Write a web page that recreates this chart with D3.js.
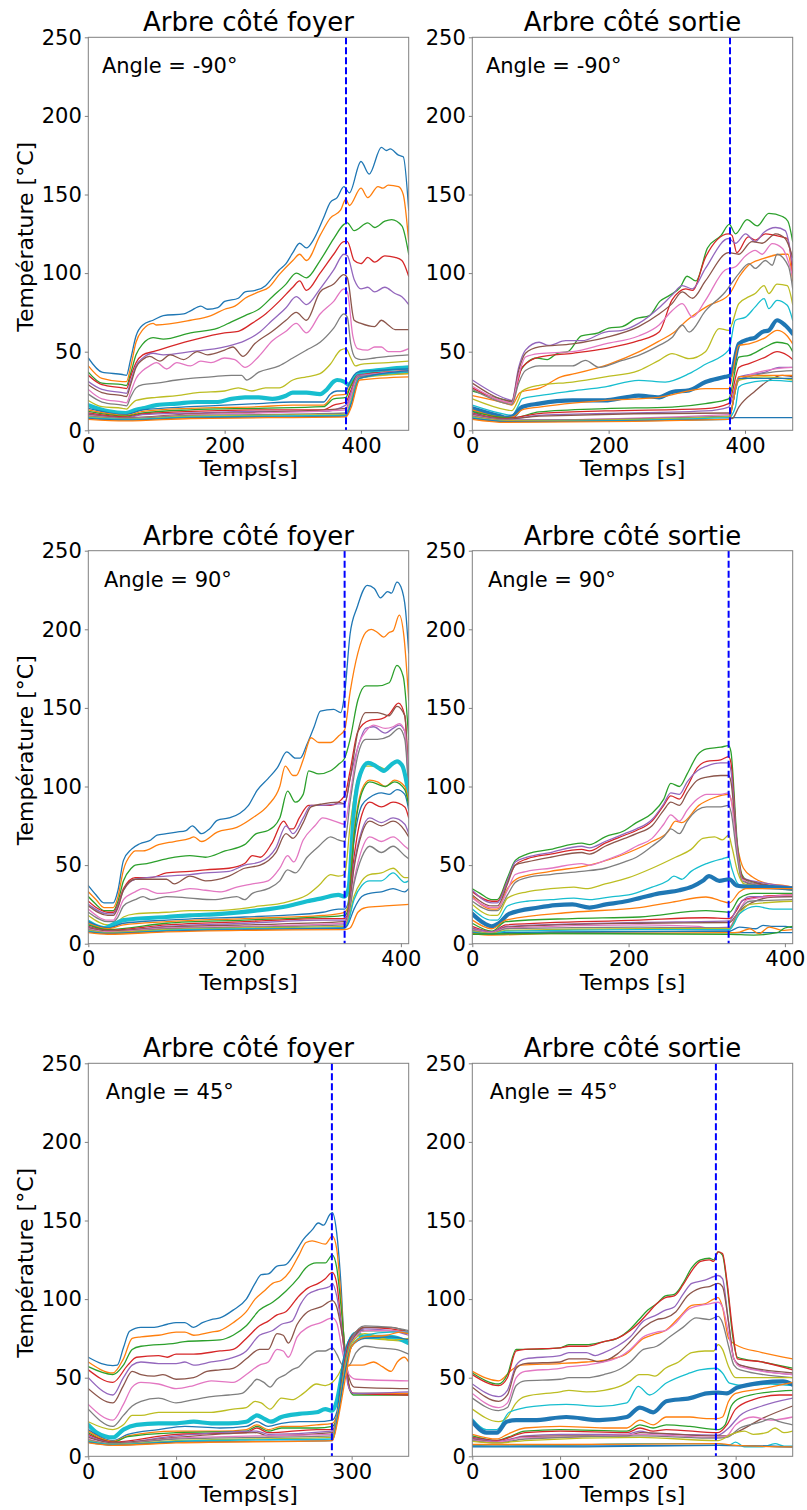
<!DOCTYPE html>
<html><head><meta charset="utf-8">
<script src="https://cdn.jsdelivr.net/npm/d3@7"></script>
<style>body{margin:0;background:#fff;} svg text{font-family:"DejaVu Sans",sans-serif;fill:#000;}</style>
</head><body>
<svg id="chart" width="807" height="1510"></svg>
<script>
// ---------- DATA ----------
const panelTitles = ["Arbre côté foyer","Arbre côté sortie","Arbre côté foyer","Arbre côté sortie","Arbre côté foyer","Arbre côté sortie"];
const angleLabels = ["Angle = -90°","Angle = -90°","Angle = 90°","Angle = 90°","Angle = 45°","Angle = 45°"];
const xLabels = ["Temps[s]","Temps [s]","Temps[s]","Temps [s]","Temps[s]","Temps [s]"];
const yLabel = "Température [°C]";
const xDomainMax = [470,470,410,410,365,365];
const markerTime = [378,378,328,328,277.5,277.5];
const xTickValues = [[0,200,400],[0,200,400],[0,200,400],[0,200,400],[0,100,200,300],[0,100,200,300]];
const yTickValues = [0,50,100,150,200,250];
const highlightIndex = [9,10,9,10,9,10];

const foyerM90 = [
[[0,46],[20,37],[50,35.5],[56,35],[62,45],[70,60],[80,67],[95,70],[110,73],[140,74],[150,76],[165,79],[175,77],[190,78],[200,82],[220,84],[230,88],[245,89],[260,92],[270,97],[280,102],[290,106],[300,113],[310,119],[320,116],[330,121],[345,135],[355,145],[365,148],[375,155],[383,151],[400,171],[412,163],[430,180],[437,178],[443,179],[455,175],[462,174],[470,140]],
[[0,41],[20,33],[50,31],[56,31],[62,40],[70,56],[80,64],[95,68],[100,67],[150,70],[180,73],[200,77],[215,79],[230,84],[250,88],[265,91],[280,99],[300,108],[310,112],[320,108],[340,124],[355,135],[370,140],[378,147],[383,143],[400,154],[410,148],[425,155],[432,154],[440,156],[455,155],[462,150],[470,120]],
[[0,37],[20,30],[50,29],[56,28.5],[62,36],[70,48],[80,55],[95,59],[110,58],[150,62],[190,65],[210,69],[230,73],[250,77],[270,85],[290,93],[305,100],[320,97],[340,108],[360,122],[375,131],[380,132],[390,127],[410,132],[420,129],[435,133],[445,134],[460,130],[470,112]],
[[0,35],[20,29],[50,27],[56,26.5],[62,34],[70,43],[80,48],[95,50],[150,57],[200,62],[220,63],[240,68],[260,74],[280,82],[300,91],[310,95],[320,89],[340,100],[360,112],[375,120],[380,120],[390,108],[400,106],[410,110],[420,107],[435,111],[450,110],[460,108],[470,98]],
[[0,31],[20,26],[50,24],[56,23.5],[62,31],[70,41],[80,46],[95,49],[110,48],[150,50],[200,53],[230,57],[250,62],[270,70],[290,78],[305,85],[320,80],[340,90],[360,102],[375,112],[380,111],[390,96],[400,90],[410,91],[420,88],[435,91],[450,87],[460,85],[470,80]],
[[0,29],[20,24],[50,22],[56,21.5],[62,29],[70,40],[80,45],[90,47],[105,44],[120,48],[140,45],[160,50],[175,48],[200,51],[212,53],[227,47],[244,55],[270,63],[290,70],[305,75],[320,70],[340,88],[360,93],[375,99],[380,97],[390,70],[400,68],[420,66],[430,70],[440,67],[450,64],[470,64]],
[[0,26],[20,20],[50,18],[56,17.5],[62,24],[70,33],[80,38],[90,41],[100,43],[115,39],[130,43],[150,41],[165,44],[180,43],[200,46],[215,45],[230,40],[250,47],[270,57],[290,63],[305,68],[320,62],[340,74],[360,82],[375,90],[380,88],[388,60],[395,52],[410,51],[420,53],[430,53],[440,50],[455,50],[470,52]],
[[0,23],[20,18],[50,16],[56,15.5],[62,21],[70,27],[80,29],[100,30],[130,32],[150,33],[180,34],[210,35],[225,35],[232,32],[250,37],[280,41],[300,46],[320,51],[340,56],[360,65],[375,74],[380,72],[385,55],[392,46],[400,45],[420,46],[440,47],[470,48]],
[[0,19],[20,15],[50,14],[56,13.5],[62,16],[70,19],[100,21],[130,22],[160,24],[200,25],[220,27],[240,25],[260,27],[280,27],[300,32],[320,34],[340,36],[355,42],[370,51],[378,52],[385,46],[392,41],[400,42],[440,43],[470,44]],
[[0,16],[30,12],[55,11],[70,13],[80,14],[100,16],[130,17],[160,18],[190,18],[210,20],[230,21],[250,21],[270,20],[290,22],[300,24],[320,24],[340,23],[350,26],[360,31],[365,32],[375,31],[382,29],[390,33],[400,37],[420,38],[440,39],[470,40]],
[[0,14],[55,10],[80,13],[150,15],[200,16],[250,17],[300,18],[345,18],[355,23],[365,25],[378,25],[383,30],[395,37],[420,38],[470,39]],
[[0,13],[55,9.5],[80,12],[150,14],[250,15],[300,16],[345,16],[360,22],[378,23],[383,27],[395,34],[420,35],[470,36]],
[[0,12],[55,9],[80,11],[150,13],[250,14],[345,15],[360,20],[378,21],[383,26],[395,35],[470,38]],
[[0,11],[55,8.5],[80,10.5],[150,12],[250,13],[345,13],[360,16],[378,18],[384,24],[395,35],[470,38]],
[[0,10.5],[55,8],[80,10],[150,11],[250,12],[345,12],[378,16],[384,22],[395,35],[470,37]],
[[0,10],[55,8],[150,10.5],[250,11.5],[378,14],[384,20],[396,34],[470,37]],
[[0,9.5],[55,7.5],[150,10],[250,11],[378,13],[384,20],[396,34],[470,38]],
[[0,9],[55,7.5],[150,9.5],[250,10],[378,11],[385,18],[397,34],[470,37]],
[[0,8.5],[55,7],[150,9],[250,9.5],[378,10],[385,18],[397,33],[470,36]],
[[0,8],[55,7],[150,8.5],[250,9],[378,9.5],[385,17],[397,33],[470,37]],
[[0,7.5],[55,6.5],[150,8],[378,9],[386,17],[398,33],[470,38]],
[[0,7],[55,6],[150,7.5],[378,8.5],[386,15],[398,32],[470,34]]
];

const sortieM90 = [
[[0,12],[50,6],[80,6.5],[200,6.5],[378,7],[382,8],[470,8]],
[[0,22],[50,17],[58,16],[70,24],[100,27],[130,34],[150,36],[200,42],[245,50],[275,57],[295,62],[315,70],[345,79],[376,86],[392,98],[405,105],[425,109],[455,112],[463,112],[470,95]],
[[0,25],[50,19],[58,18],[68,35],[80,43],[95,46],[110,45],[125,49],[140,50],[160,60],[185,62],[200,65],[220,66],[240,71],[260,73],[275,82],[290,86],[305,91],[315,98],[328,95],[345,116],[365,124],[377,131],[386,125],[403,134],[418,130],[435,138],[455,136],[463,133],[470,120]],
[[0,27],[50,18],[58,17.5],[68,33],[73,40],[98,46.5],[147,49],[195,52],[244,57],[274,62.5],[293,83],[303,88],[313,90],[323,89],[342,110],[376,125],[381,124],[388,113],[405,123],[415,121],[430,125],[454,123],[462,122],[470,100]],
[[0,32],[50,20],[58,19],[68,40],[78,51],[98,56],[112,54],[137,57],[161,57],[195,62.5],[220,63.6],[244,68],[274,78],[293,86],[308,92],[323,90],[342,103],[376,122],[386,119],[401,125],[415,120],[428,126],[445,129],[459,127],[470,105]],
[[0,30],[50,19],[58,18.5],[68,38],[78,49],[98,53],[147,55],[195,59],[244,66],[274,74],[293,80.6],[308,88],[323,84],[342,95],[376,113],[391,112],[410,120],[425,119],[445,125],[459,122],[470,110]],
[[0,28],[50,18],[58,17.5],[68,35],[78,46.6],[98,48.8],[147,50],[195,55],[244,60],[274,67],[293,76],[308,80.6],[323,72],[342,82.7],[371,102],[386,104],[401,111],[415,114.5],[425,112],[440,118.7],[455,115.6],[470,98]],
[[0,26],[50,17],[58,16.5],[68,30],[78,38],[98,41],[147,41],[166,44.5],[186,40],[220,44.5],[244,47.7],[274,54],[293,59],[308,67],[318,62.5],[342,76],[371,88],[391,99.7],[406,106],[415,103],[430,108],[440,105],[447,112],[464,104],[470,90]],
[[0,20],[50,13],[58,12.5],[68,20],[73,25],[98,28.6],[147,30.7],[195,34],[244,38],[274,44.5],[293,48.8],[318,45.6],[342,50],[362,64.7],[376,63.6],[391,80.6],[406,85],[415,87],[428,92],[435,87],[447,93],[462,92],[470,80]],
[[0,16],[50,10],[58,9.5],[68,16],[73,20],[98,22],[147,25],[195,27.6],[244,31.8],[283,30.7],[318,36],[342,42],[376,51],[386,70],[401,72],[415,78.5],[428,83.8],[435,77.4],[447,82.7],[462,79.5],[470,70]],
[[0,14],[40,9],[50,8],[60,9],[73,14.8],[98,17],[147,19],[195,19],[225,21],[244,22],[274,21],[293,24.4],[318,25.4],[342,30.7],[371,34],[379,35],[391,55],[406,58],[415,59],[425,62.5],[435,63.6],[447,70],[459,66.8],[470,61.5]],
[[0,13],[50,8],[60,8.5],[73,13],[98,14.8],[195,19],[274,21],[342,26.5],[376,26.5],[391,54],[406,55],[430,59],[447,63.6],[462,60],[470,55]],
[[0,12],[50,8],[60,8],[98,11.7],[195,13.8],[293,14.8],[342,17],[376,20],[391,46.6],[406,47.7],[430,53],[447,56],[462,55],[470,50]],
[[0,11],[50,7.5],[98,10.6],[195,12.3],[342,13.8],[376,17],[391,40],[406,42.4],[430,46.6],[447,50],[462,47.7],[470,45]],
[[0,10.5],[50,7],[98,9.5],[342,12.3],[376,14.8],[391,34],[430,37],[450,40],[470,40]],
[[0,10],[50,7],[98,9],[376,11],[381,7.4],[391,14.8],[415,25],[435,31.8],[455,35],[470,34]],
[[0,9.5],[50,6.5],[376,10],[391,31.8],[430,38],[470,40]],
[[0,9],[50,6.5],[376,9],[391,32],[440,37],[470,38]],
[[0,8.5],[50,6],[376,8.5],[391,32],[430,34],[470,32]],
[[0,8],[50,5.5],[376,8],[386,14.8],[391,27.6],[401,29.7],[440,31.8],[470,31]],
[[0,7.5],[50,5.5],[376,7],[391,33],[470,33]],
[[0,7],[50,5],[376,7],[391,34],[440,35],[470,35]]
];

const foyer90 = [
[[0,37],[10,31],[20,26],[32,26],[38,34],[45,53],[55,60],[66,63.6],[80,66],[88,69],[100,70],[113,71],[125,72],[133,75],[145,70],[155,73],[165,78.5],[180,80],[194,83],[205,88],[216,97.5],[230,105],[242,112],[254,122],[265,118],[271,118],[280,127],[289,138],[297,148],[314,149],[323,147],[328,159],[335,197],[344,214],[357,228],[366,226],[374,220],[383,224],[388,223],[395,230],[400,227],[406,212],[410,185]],
[[0,33],[10,28],[20,23],[32,23],[38,30],[45,47],[55,57],[60,59],[70,59],[90,63],[110,65],[130,67],[135,68],[145,65],[165,71],[190,74],[210,80],[230,88],[245,100],[252,113],[262,107],[266,107],[275,117],[285,131],[295,128],[310,128],[320,132],[328,136],[335,160],[345,185],[355,198],[362,200],[370,198],[378,195],[385,198],[390,199],[398,209],[404,195],[410,155]],
[[0,30],[10,25],[20,21],[32,21],[38,27],[45,40],[55,48],[60,50],[75,51],[100,54],[130,56],[150,55],[175,59],[200,63],[215,70],[230,72],[245,80],[255,97],[265,90],[275,95],[282,110],[295,108],[310,110],[320,114],[328,118],[335,130],[345,155],[355,164],[370,164],[385,166],[395,177],[403,170],[410,130]],
[[0,27],[10,23],[25,20],[32,20],[38,25],[45,35],[60,42],[80,42],[100,45],[130,46],[150,47],[180,48],[200,51],[210,56],[220,55],[235,64],[250,78],[258,73],[262,73],[270,80],[282,88],[295,88],[310,88],[328,94],[335,110],[345,135],[360,142],[375,143],[385,146],[397,153],[405,145],[410,100]],
[[0,25],[25,19],[32,19],[38,24],[45,34],[60,41],[100,43],[130,44],[150,45],[180,46],[200,50],[220,52],[240,61],[253,75],[262,70],[275,80],[285,88],[300,88],[320,89],[328,89],[335,105],[345,125],[355,137],[365,138],[380,134],[390,137],[398,139],[405,135],[410,95]],
[[0,24],[25,18],[32,18],[38,23],[45,34],[60,41],[100,41],[110,38],[130,43],[150,40],[180,43],[200,48],[220,50],[240,58],[253,70],[262,67],[275,77],[285,87],[300,89],[320,90],[328,89],[335,105],[345,135],[355,147],[370,147],[385,145],[395,151],[405,145],[410,100]],
[[0,22],[25,15],[32,15],[38,20],[45,28],[60,33],[70,35],[90,32],[110,33],[130,35],[150,34],[170,33],[190,36],[210,38],[230,40],[245,48],[255,56],[263,52],[275,66],[290,75],[300,80],[315,78],[328,76],[335,95],[345,125],[355,135],[365,139],[380,137],[390,138],[398,140],[405,135],[410,100]],
[[0,20],[25,14],[32,14],[38,17],[45,24],[60,28],[70,30],[80,28],[100,30],[130,29],[160,28],[190,30],[200,28],[210,32],[230,35],[245,40],[255,47],[265,45],[280,55],[295,62],[310,68],[320,66],[328,65],[335,90],[345,120],[355,130],[370,130],[385,132],[398,137],[405,130],[410,95]],
[[0,18],[25,12],[32,12],[40,15],[45,17],[60,19],[100,20],[130,21],[160,21],[190,22],[220,24],[250,26],[265,28],[280,31],[295,37],[310,44],[320,43],[328,44],[335,75],[345,105],[355,113],[370,113],[380,111],[395,116],[405,110],[410,90]],
[[0,14],[20,10],[35,13],[45,15],[100,17],[130,18],[170,19],[214,21],[256,24],[280,27],[300,29],[320,31],[328,30],[333,35],[340,85],[348,108],[358,115],[368,113],[378,110],[388,114],[395,116],[402,113],[410,95]],
[[0,14],[25,10],[45,13],[100,15],[200,17],[250,18],[300,20],[320,22],[328,22],[332,25],[340,65],[350,88],[360,93],[375,96],[385,95],[395,98],[405,95],[410,85]],
[[0,13],[25,9.5],[45,12],[100,14],[200,16],[300,18],[328,20],[332,23],[340,70],[350,98],[360,104],[370,103],[380,100],[392,104],[405,100],[410,90]],
[[0,12],[25,9],[100,13],[200,15],[300,17],[328,18],[332,21],[340,68],[350,96],[360,103],[380,100],[392,103],[405,98],[410,88]],
[[0,11],[25,8.5],[100,12],[200,14],[300,16],[328,16],[332,19],[340,55],[350,82],[360,90],[375,87],[390,90],[405,87],[410,80]],
[[0,10.5],[25,8],[100,11],[200,13],[300,15],[328,15],[332,18],[340,50],[350,72],[360,80],[375,77],[390,80],[405,76],[410,70]],
[[0,10],[25,8],[100,10.5],[200,12],[328,14],[332,17],[340,48],[350,70],[360,78],[375,75],[390,78],[405,72],[410,68]],
[[0,9.5],[25,7.5],[100,10],[200,11],[328,13],[332,16],[340,40],[350,60],[360,68],[375,65],[390,68],[405,62],[410,60]],
[[0,9],[25,7],[100,9.5],[200,10.5],[328,12],[332,15],[340,38],[350,55],[360,62],[375,58],[390,62],[405,56],[410,54]],
[[0,8.5],[25,7],[100,9],[200,10],[328,11],[332,14],[340,30],[350,40],[360,44],[375,45],[390,48],[405,42],[410,42]],
[[0,8],[25,6.5],[100,8.5],[200,9.5],[328,10],[332,13],[340,28],[350,37],[360,40],[375,40],[390,45],[405,39],[410,40]],
[[0,7.5],[25,6.5],[100,8],[200,9],[328,10],[332,12],[340,22],[350,30],[360,32],[375,33],[390,35],[405,33],[410,35]],
[[0,7],[25,6],[100,7.5],[200,8.5],[328,9],[335,10],[345,20],[355,23],[380,24],[410,25]]
];

const sortie90 = [
[[0,9],[30,7],[100,7.5],[328,8],[332,7],[410,7]],
[[0,30],[25,22],[32,22],[45,35],[60,42],[100,46],[150,50],[200,58],[230,65],[250,71],[260,78],[268,77],[290,88],[310,93],[328,95],[332,90],[340,60],[347,48],[360,42],[380,38],[400,37],[410,36]],
[[0,35],[10,32],[25,28],[32,28],[45,42],[55,53],[70,57],[100,60],[140,64],[150,63],[170,68],[195,72],[210,77],[230,83],[245,92],[254,102],[265,100],[275,108],[288,120],[300,124],[318,125],[328,126],[331,122],[339,65],[345,44],[355,39],[380,37],[410,36]],
[[0,33],[25,27],[32,27],[45,40],[55,50],[70,54],[100,57],[140,60],[150,59],[170,64],[195,69],[210,72],[230,78],[245,88],[254,94],[265,92],[275,100],[288,112],[300,116],[318,117],[328,119],[331,115],[339,62],[345,43],[355,38],[380,37],[410,35]],
[[0,34],[25,26],[32,26],[45,40],[55,52],[70,55],[100,58],[140,62],[150,61],[170,65],[195,70],[210,73],[230,79],[245,89],[254,96],[265,95],[275,103],[288,110],[300,113],[318,115],[328,115],[331,110],[339,62],[345,42],[380,38],[410,36]],
[[0,31],[25,24],[32,24],[45,38],[55,50],[70,52],[100,55],[140,58],[150,57],[170,62],[195,67],[210,70],[230,75],[245,85],[254,90],[265,88],[275,96],[288,104],[300,106],[318,107],[328,107],[331,103],[339,60],[345,42],[380,37],[410,35]],
[[0,29],[25,23],[32,23],[45,34],[55,44],[70,46],[100,48],[140,51],[150,50],[170,53],[195,58],[210,62],[230,67],[245,76],[254,82],[265,78],[275,85],[288,92],[300,95],[318,95],[328,96],[331,92],[339,58],[345,41],[380,36],[410,35]],
[[0,27],[25,21],[32,21],[45,31],[55,39],[70,42],[100,44],[140,46],[170,48],[195,52],[210,55],[230,62],[245,68],[254,73],[265,70],[275,78],[288,85],[300,87],[318,87],[328,88],[331,84],[339,55],[345,40],[380,36],[410,35]],
[[0,25],[25,18],[32,18],[45,29],[70,33],[100,35],[130,36],[145,35],[170,38],[200,42],[230,48],[260,55],[280,60],[295,67],[310,68],[320,66],[328,69],[332,62],[340,45],[348,38],[380,36],[410,34]],
[[0,22],[25,15],[32,15],[45,24],[70,27],[100,28],[130,29],[150,28],[180,30],[200,31],[230,36],[250,40],[258,43],[268,41],[280,46],[300,51],[320,54],[328,55],[332,48],[340,38],[350,36],[380,36],[410,35]],
[[0,19],[12,14],[25,11],[34,13],[47,19],[85,23],[107,24.5],[128,25],[150,23],[171,25],[192,26.5],[214,29],[239,32],[265,34],[282,36.5],[295,40],[303,43],[316,40],[329,41],[338,37],[346,36.5],[380,36],[410,35]],
[[0,15],[25,9.5],[43,15],[128,20],[214,23],[256,26.5],[299,29.7],[316,27.6],[329,26],[342,33],[350,35],[410,35]],
[[0,13],[25,8],[43,14],[128,16],[214,17],[299,21],[329,20],[342,29],[360,32],[410,32]],
[[0,11],[25,7.5],[43,12],[214,15],[299,16.5],[329,16],[338,21],[346,27.6],[370,30],[410,31]],
[[0,10],[25,7.5],[43,11],[214,13.5],[329,14.5],[340,24],[355,30],[410,30]],
[[0,9.5],[25,7],[43,10.5],[214,13],[329,13.5],[342,21],[385,29.7],[410,30]],
[[0,9],[25,7],[43,10],[214,12],[290,11],[300,10],[329,10.5],[338,18],[352,28],[410,31]],
[[0,8.5],[25,6.5],[43,9.5],[214,10.5],[329,10],[340,20],[355,27],[410,28]],
[[0,8],[25,6.5],[43,8.5],[214,9.5],[329,9.5],[340,18],[355,25],[410,27]],
[[0,7.5],[25,6],[43,8],[214,9],[329,9],[342,19],[363,23.7],[385,22],[410,22]],
[[0,7],[25,6],[100,7],[329,8],[342,10.6],[363,9.5],[372,11.7],[385,11],[401,11],[410,10]],
[[0,6.5],[25,5.5],[100,6.5],[329,7],[342,7.4],[355,9.5],[367,6.4],[380,10.6],[397,8.5],[410,9]],
[[0,6],[100,6.5],[329,6],[360,5.5],[390,7],[400,10],[410,11]]
];

const foyer45 = [
[[0,63],[15,59],[28,57.7],[33,58],[40,69],[47,79.5],[60,82],[75,82],[90,84],[100,85],[110,85],[120,82],[130,85],[140,87],[150,88],[165,93],[180,100],[190,110],[197,115.6],[205,116],[215,121],[225,122],[235,129],[245,138],[255,144],[262,148.4],[268,147],[275,153.7],[278,155],[283,142],[288,108],[292,66],[297,44.5],[302,40],[330,40],[365,40]],
[[0,60],[28,53],[40,62],[50,75],[60,76],[80,77],[100,79],[110,79],[120,77],[140,79],[150,80],[165,85],[180,92],[190,100],[200,105],[210,110],[220,112],[230,118],[240,128],[248,136],[255,137],[270,135],[278,140],[283,132],[288,100],[292,70],[297,45],[302,40],[365,40]],
[[0,57],[28,52],[40,58],[50,68],[60,70],[100,72],[110,73],[150,74],[165,77],[180,83],[195,93],[210,98],[225,105],[240,114],[248,120],[260,123],[270,123],[278,128],[283,120],[288,95],[293,65],[298,42],[302,39],[365,39]],
[[0,55],[28,47],[45,58],[55,63],[80,64],[90,63],[100,65],[120,65],[150,67],[165,68],[180,75],[195,83],[205,86],[215,90],[225,92],[240,102],[250,107],[262,110],[270,113],[278,117],[283,110],[288,85],[293,60],[298,42],[302,40],[365,39]],
[[0,50],[28,39],[40,50],[50,58],[60,60],[80,59],[100,59],[110,60],[120,58],[140,60],[160,62],[180,67],[195,77],[210,80],[220,84],[232,86],[242,97],[250,103],[262,106],[275,108],[278,110],[283,102],[290,75],[296,45],[302,40],[365,41]],
[[0,43],[28,34],[40,45],[50,54],[60,52],[75,51],[85,52],[100,49],[120,50],[135,54],[150,55],[165,56],[180,62],[195,68],[205,68],[215,78],[222,77],[228,72],[238,84],[250,92],[265,95],[278,99],[283,95],[290,75],[297,50],[303,44],[365,43]],
[[0,33],[28,23],[40,33],[50,44],[60,47],[80,46],[100,43],[120,45],[140,48],[165,47],[180,52],[195,58],[205,60],[215,68],[222,67],[228,63],[238,76],[250,82],[265,85],[278,88],[283,85],[290,65],[297,52],[305,49],[365,48]],
[[0,30],[28,19],[40,26],[50,32],[60,35],[80,37],[100,34],[120,36],[140,38],[160,39],[175,40],[185,45],[192,49],[200,47],[207,44],[215,49],[225,52],[232,55],[240,57],[250,63],[262,67],[270,67],[278,69],[283,65],[290,58],[297,58],[305,66],[315,70],[330,69],[350,68],[365,65]],
[[0,22],[28,17],[40,20],[50,26],[60,26],[80,28],[100,28],[140,28],[165,30],[180,31],[190,35],[197,34],[207,30],[220,37],[232,36],[245,40],[260,46],[270,45],[278,47],[285,52],[290,58],[298,68],[310,75],[340,74],[365,73]],
[[0,20],[10,15],[28,12],[40,17],[55,20],[80,21],[100,21],[120,22],[140,21],[160,21],[180,22],[192,26],[200,24],[208,22],[220,25],[240,27],[260,28],[270,30],[278,29],[283,35],[290,55],[298,73],[305,78],[315,76],[330,76],[345,76],[365,72]],
[[0,17],[28,10],[45,14],[80,17],[110,19],[150,18],[180,19],[192,22],[205,19],[220,21],[240,22],[260,22],[278,23],[283,28],[290,60],[298,75],[310,80],[340,80],[365,78]],
[[0,16],[28,9.5],[45,13],[100,16],[150,16],[180,17],[192,20],[205,17],[220,19],[240,19],[260,20],[278,21],[285,30],[292,55],[300,58],[312,58],[325,60],[335,57],[345,54],[352,60],[360,63],[365,60]],
[[0,15],[28,9],[45,12.5],[100,15],[180,16],[192,19],[205,16],[220,18],[260,18],[278,19],[285,30],[292,60],[300,74],[315,80],[345,80],[365,78]],
[[0,14],[28,9],[100,14],[180,15],[192,18],[205,15],[260,17],[278,17],[285,30],[292,60],[300,76],[315,82],[345,81],[365,79]],
[[0,13],[28,8.5],[100,13],[192,16],[205,14],[278,16],[285,30],[293,60],[300,74],[315,81],[345,80],[365,77]],
[[0,12],[28,8.5],[100,12],[192,15],[205,13],[278,15],[285,30],[293,58],[300,72],[315,82],[345,82],[365,79]],
[[0,11],[28,8],[100,11.5],[192,13],[278,14],[285,30],[293,58],[300,72],[315,80],[345,80],[365,79]],
[[0,10.5],[28,8],[100,11],[192,12],[278,13],[285,30],[293,60],[300,75],[315,83],[345,82],[365,80]],
[[0,10],[28,7.5],[100,10],[192,11],[278,12],[285,30],[293,58],[300,72],[315,78],[345,74],[365,75]],
[[0,9.5],[28,7.5],[100,9.5],[192,10.5],[278,11],[285,28],[293,55],[300,70],[315,77],[345,79],[365,79]],
[[0,9],[28,7],[100,9],[278,10],[285,28],[293,55],[300,70],[315,75],[345,76],[365,74]],
[[0,8.5],[28,7],[100,8.5],[278,10],[285,25],[293,50],[300,70],[315,76],[340,77],[355,79],[365,78]]
];

const sortie45 = [
[[0,6],[100,6],[280,7],[365,6]],
[[0,54],[30,48],[45,55],[55,58],[100,59],[130,60],[150,61],[175,65],[195,75],[210,78],[220,80],[235,88],[250,96],[265,97],[275,100],[280,101],[285,95],[292,75],[300,71],[330,66],[365,62]],
[[0,53],[30,46],[40,52],[50,68],[60,68],[100,69],[110,71],[130,71],[150,73],[165,75],[180,81],[190,87],[200,93],[210,97],[220,102],[230,103],[240,110],[250,120],[260,125],[270,126],[275,125],[280,130],[285,128],[290,110],[297,75],[302,63],[330,60],[365,56]],
[[0,52],[30,45],[40,50],[50,67],[60,68],[100,69],[110,70],[130,70],[150,73],[165,75],[180,80],[190,85],[200,91],[210,97],[220,101],[230,102],[240,109],[250,118],[260,124],[270,125],[275,124],[280,130],[285,129],[290,112],[297,78],[302,62],[330,60],[365,55]],
[[0,46],[30,38],[40,42],[50,58],[60,62],[100,64],[110,66],[130,66],[140,64],[150,66],[165,70],[180,76],[195,86],[210,90],[220,93],[230,95],[240,103],[250,110],[265,112],[280,115],[285,113],[292,85],[298,62],[305,58],[365,52]],
[[0,44],[30,35],[40,39],[50,56],[60,59],[100,60],[110,62],[130,62],[145,60],[165,65],[180,73],[195,82],[210,87],[220,88],[232,92],[245,102],[260,107],[270,108],[280,110],[285,108],[292,85],[298,62],[305,58],[365,53]],
[[0,40],[30,31],[40,34],[50,50],[60,54],[100,56],[110,57],[130,58],[150,60],[170,64],[180,68],[195,76],[210,79],[220,80],[232,85],[245,93],[260,96],[270,97],[280,98],[285,95],[292,78],[298,62],[305,57],[365,52]],
[[0,37],[30,29],[40,31],[50,45],[60,48],[100,49],[110,50],[130,50],[150,52],[170,56],[180,60],[195,68],[210,70],[225,76],[240,82],[255,88],[270,87],[280,89],[285,85],[292,70],[298,58],[305,55],[365,50]],
[[0,30],[30,22],[40,25],[50,34],[60,38],[100,41],[110,42],[130,41],[150,42],[170,45],[180,48],[190,52],[200,52],[208,51],[220,56],[235,60],[250,66],[265,67],[275,67],[280,71],[285,68],[292,57],[300,50],[310,50],[365,50]],
[[0,24],[16,17],[28,17],[42,28],[70,31.8],[107,33],[145,31.8],[176,34],[189,44.5],[202,39],[221,46.6],[248,53],[259,55],[278,56],[285,53],[293,46.6],[310,45],[340,46],[365,45]],
[[0,22],[16,15],[28,15],[39,22],[50,23],[70,23],[107,25],[145,23],[176,25],[191,31],[206,28],[221,35],[248,37],[267,40],[280,40.5],[290,40],[301,43.5],[316,45.6],[354,47.7],[365,45.6]],
[[0,14],[28,11],[40,14],[60,18],[100,19],[150,18],[176,18],[191,23],[206,20],[221,25],[248,25],[267,24],[278,24],[285,25],[292,35],[300,40],[330,43],[365,47]],
[[0,13],[28,10],[40,12],[60,16],[100,17],[176,16],[191,20],[206,18],[221,20],[248,19],[280,17],[288,20],[295,32],[305,37],[340,41],[365,42]],
[[0,12],[28,10],[60,15],[100,16],[176,15],[191,18],[206,16],[221,17],[280,15],[290,20],[300,30],[320,36],[350,39],[365,39]],
[[0,11.5],[28,9.5],[60,13],[100,14],[176,14],[191,16],[206,14.5],[280,13.5],[292,18],[305,26],[330,32],[365,37]],
[[0,11],[28,9],[60,12.5],[100,13],[176,13],[191,15],[280,13],[290,13],[300,15],[330,24],[365,32]],
[[0,10.5],[28,9],[60,12],[100,12],[191,14],[280,12],[290,13],[300,20],[320,25],[340,23],[365,25]],
[[0,10],[28,8.5],[60,11],[191,13],[280,11.5],[290,12],[305,18],[330,22],[340,24],[350,22],[365,20]],
[[0,9.5],[28,8.5],[60,10],[191,12],[280,10],[295,14],[310,16],[320,14],[335,15],[345,18],[355,15],[365,16]],
[[0,7],[28,6.5],[100,7],[191,8],[280,8],[292,7],[300,9],[310,6],[330,6],[345,8],[355,6.5],[365,6.5]],
[[0,6.5],[100,6.5],[280,7],[365,6]],
[[0,7.5],[100,7.5],[280,8],[300,7],[365,6]]
];

const seriesData = [foyerM90, sortieM90, foyer90, sortie90, foyer45, sortie45];

// ---------- LAYOUT / STYLE ----------
const palette = d3.schemeCategory10;
const colLeft = [88.3, 472.3];
const rowTop = [37.3, 550.7, 1063.3];
const plotW = 320.4, plotH = 393;

const svg = d3.select("#chart");
svg.append("rect").attr("width",807).attr("height",1510).attr("fill","#fff");
const defs = svg.append("defs");

seriesData.forEach((series, p) => {
  const col = p % 2, row = Math.floor(p / 2);
  const left = colLeft[col], top = rowTop[row];
  const g = svg.append("g").attr("transform", `translate(${left},${top})`);

  const x = d3.scaleLinear().domain([0, xDomainMax[p]]).range([0, plotW]);
  const y = d3.scaleLinear().domain([0, 250]).range([plotH, 0]);

  const clipId = "clip" + p;
  defs.append("clipPath").attr("id", clipId)
    .append("rect").attr("x",0).attr("y",0).attr("width",plotW).attr("height",plotH);

  const line = d3.line().x(d => x(d[0])).y(d => y(d[1])).curve(d3.curveMonotoneX);
  const lines = g.append("g").attr("clip-path", `url(#${clipId})`);
  series.forEach((s, i) => {
    const thick = i === highlightIndex[p];
    lines.append("path").datum(s)
      .attr("d", line)
      .attr("fill","none")
      .attr("stroke", palette[i % 10])
      .attr("stroke-width", thick ? 4.2 : 1.3)
      .attr("stroke-linejoin","round")
      .attr("stroke-linecap","round");
  });

  // dashed marker
  lines.append("line")
    .attr("x1", x(markerTime[p])).attr("x2", x(markerTime[p]))
    .attr("y1", 0).attr("y2", plotH)
    .attr("stroke", "#0000ff").attr("stroke-width", 2)
    .attr("stroke-dasharray", "7,3");

  // frame
  g.append("rect").attr("x",0).attr("y",0).attr("width",plotW).attr("height",plotH)
    .attr("fill","none").attr("stroke","#808080").attr("stroke-width",1);

  // axes
  const ax = g.append("g").attr("transform", `translate(0,${plotH})`)
    .call(d3.axisBottom(x).tickValues(xTickValues[p]).tickSize(3.5).tickPadding(4).tickFormat(d3.format("d")));
  const ay = g.append("g")
    .call(d3.axisLeft(y).tickValues(yTickValues).tickSize(3.5).tickPadding(3).tickFormat(d3.format("d")));
  [ax, ay].forEach(a => {
    a.select(".domain").remove();
    a.selectAll(".tick line").attr("stroke","#808080");
    a.selectAll(".tick text").attr("font-size", 21).attr("font-family","DejaVu Sans").attr("fill","#000");
  });

  // title
  g.append("text").attr("x", plotW/2).attr("y", -6)
    .attr("text-anchor","middle").attr("font-size", 26).text(panelTitles[p]);

  // angle annotation
  g.append("text").attr("x", x(20)).attr("y", y(227))
    .attr("font-size", 21).text(angleLabels[p]);

  // x label
  g.append("text").attr("x", plotW/2).attr("y", plotH + 46)
    .attr("text-anchor","middle").attr("font-size", 22).text(xLabels[p]);

  // y label (left column only)
  if (col === 0) {
    svg.append("text")
      .attr("transform", `translate(32.7,${top + plotH/2 + 3}) rotate(-90)`)
      .attr("text-anchor","middle").attr("font-size", 22).text(yLabel);
  }
});
</script>
</body></html>
